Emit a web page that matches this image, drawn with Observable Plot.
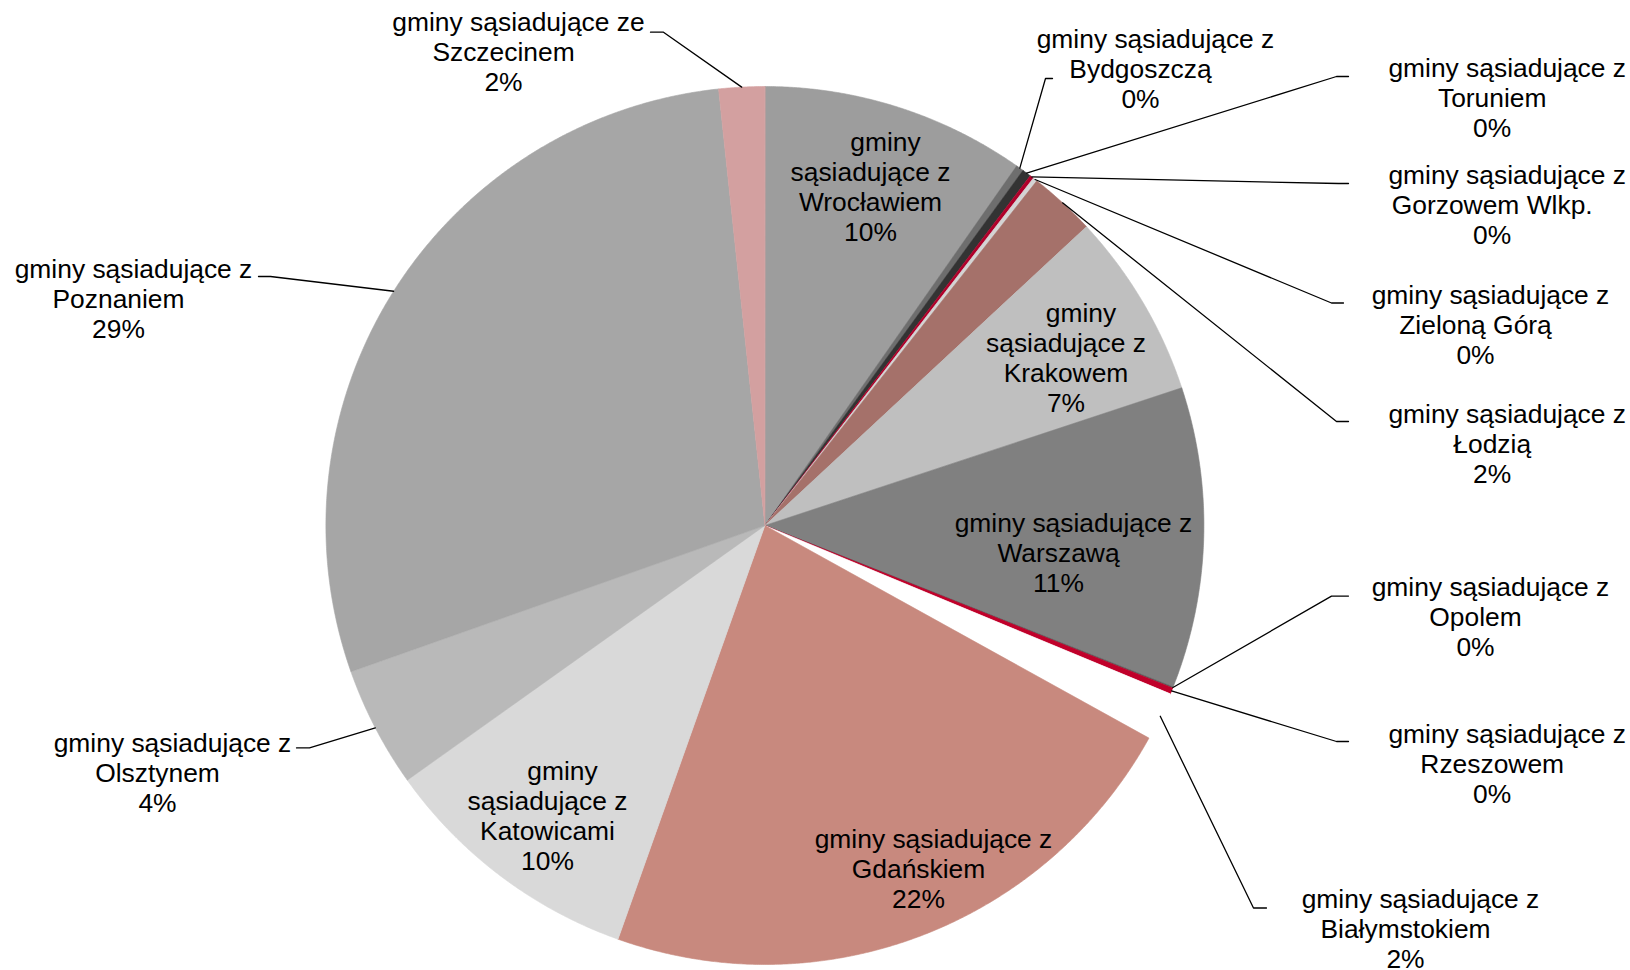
<!DOCTYPE html>
<html>
<head>
<meta charset="utf-8">
<script src="https://cdn.jsdelivr.net/npm/d3@7"></script>
<script src="https://cdn.jsdelivr.net/npm/@observablehq/plot@0.6"></script>
<style>
  html, body { margin: 0; padding: 0; background: #fff; }
  #chart svg { display: block; }
</style>
</head>
<body>
<div id="chart"></div>
<script>
// ---------- data ----------
const categories = ["Wrocławiem","Bydgoszczą","Toruniem","Gorzowem Wlkp.","Zieloną Górą","Łodzią","Krakowem","Warszawą","Opolem","Rzeszowem","Białymstokiem","Gdańskiem","Katowicami","Olsztynem","Poznaniem","Szczecinem"];
const prepositions = ["z","z","z","z","z","z","z","z","z","z","z","z","z","z","z","ze"];
const shares = [9.71,0.28,0.33,0.14,0.16,2.45,6.83,11.06,0.04,0.23,1.78,22.36,9.71,4.44,28.69,1.68];
const sliceColors = ["#9d9d9d","#6e6e6e","#333333","#b0002a","#d4d4d4","#a5716a","#bfbfbf","#808080","#595959","#c0002a","#ffffff","#c8897e","#d9d9d9","#b9b9b9","#a6a6a6","#d3a0a0"];

// ---------- layout (pixels) ----------
const W = 1630, H = 970;
const CX = 764.4, CY = 525, R = 439;
const FONT = 26.4, PITCH = 30, LINE1_DX = 15;
// inner labels: cx = centre of lines 2+, y = first line centre
const labelLayout = [
  {name:"Wrocławiem",     mode:"inner4", cx:870,    y:142},
  {name:"Bydgoszczą",     mode:"outer",  cx:1140,   y:39.5,  elbow:[1045,78],    end:[1052,78]},
  {name:"Toruniem",       mode:"outer",  cx:1491.7, y:67.6,  elbow:[1336,76],    end:[1348,76]},
  {name:"Gorzowem Wlkp.", mode:"outer",  cx:1491.7, y:174.6, elbow:[1338,183],   end:[1348,183]},
  {name:"Zieloną Górą",   mode:"outer",  cx:1475,   y:295,   elbow:[1331,302.5], end:[1343,302.5]},
  {name:"Łodzią",         mode:"outer",  cx:1491.7, y:414,   elbow:[1336,421],   end:[1348,421]},
  {name:"Krakowem",       mode:"inner4", cx:1065.5, y:313},
  {name:"Warszawą",       mode:"inner3", cx:1058,   y:523},
  {name:"Opolem",         mode:"outer",  cx:1475,   y:587,   elbow:[1331,595.6], end:[1348,595.6]},
  {name:"Rzeszowem",      mode:"outer",  cx:1491.7, y:734,   elbow:[1336,741],   end:[1348,741]},
  {name:"Białymstokiem",  mode:"outer",  cx:1405,   y:899,   elbow:[1253,907.5], end:[1266,907.5]},
  {name:"Gdańskiem",      mode:"inner3", cx:918,    y:839},
  {name:"Katowicami",     mode:"inner4", cx:547,    y:771},
  {name:"Olsztynem",      mode:"outer",  cx:157,    y:743,   elbow:[309,747.4],  end:[296,747.4]},
  {name:"Poznaniem",      mode:"outer",  cx:118,    y:269,   elbow:[270,276],    end:[258,276]},
  {name:"Szczecinem",     mode:"outer",  cx:503,    y:22,    elbow:[663,31.7],   end:[650,31.7]}
];

// px -> data units (pie radius = 1, centre = 0,0, y up)
const px = x => (x - CX) / R;
const py = y => (CY - y) / R;

// ---------- geometry from data ----------
const total = d3.sum(shares);
const arcs = d3.pie().sort(null).value(d => d)(shares);
const slicePts = [];
arcs.forEach((a, i) => {
  const name = categories[i];
  slicePts.push({name, x: 0, y: 0});
  const n = Math.max(2, Math.ceil((a.endAngle - a.startAngle) / (Math.PI / 720)));
  for (let k = 0; k <= n; k++) {
    const t = a.startAngle + (a.endAngle - a.startAngle) * k / n;
    slicePts.push({name, x: Math.sin(t), y: Math.cos(t)});
  }
});

const textRows = [];
const leaderPts = [];
labelLayout.forEach(L => {
  const i = categories.indexOf(L.name);
  const pct = Math.round(shares[i] / total * 100) + "%";
  let lines;
  if (L.mode === "inner4") lines = ["gminy", "sąsiadujące " + prepositions[i], categories[i], pct];
  else lines = ["gminy sąsiadujące " + prepositions[i], categories[i], pct];
  lines.forEach((t, k) => {
    textRows.push({x: px(L.cx + (k === 0 ? LINE1_DX : 0)), y: py(L.y + k * PITCH), text: t});
  });
  if (L.mode === "outer") {
    const a = arcs[i];
    const mid = (a.startAngle + a.endAngle) / 2;
    leaderPts.push({name: L.name, x: Math.sin(mid), y: Math.cos(mid)});
    leaderPts.push({name: L.name, x: px(L.elbow[0]), y: py(L.elbow[1])});
    leaderPts.push({name: L.name, x: px(L.end[0]), y: py(L.end[1])});
  }
});

const chart = Plot.plot({
  width: W,
  height: H,
  margin: 0,
  x: {domain: [px(0), px(W)], axis: null},
  y: {domain: [py(H), py(0)], axis: null},
  color: {domain: categories, range: sliceColors},
  style: {fontFamily: "'Liberation Sans', Arial, sans-serif", background: "#fff", overflow: "visible"},
  marks: [
    Plot.line(slicePts, {x: "x", y: "y", z: "name", fill: "name", stroke: "name", strokeWidth: 0.6, curve: "linear-closed"}),
    Plot.line(leaderPts, {x: "x", y: "y", z: "name", stroke: "#000", strokeWidth: 1.3, curve: "linear"}),
    Plot.text(textRows, {x: "x", y: "y", text: "text", fontSize: FONT, fill: "#000", textAnchor: "middle", lineAnchor: "middle"})
  ]
});
document.getElementById("chart").append(chart);
</script>
</body>
</html>
